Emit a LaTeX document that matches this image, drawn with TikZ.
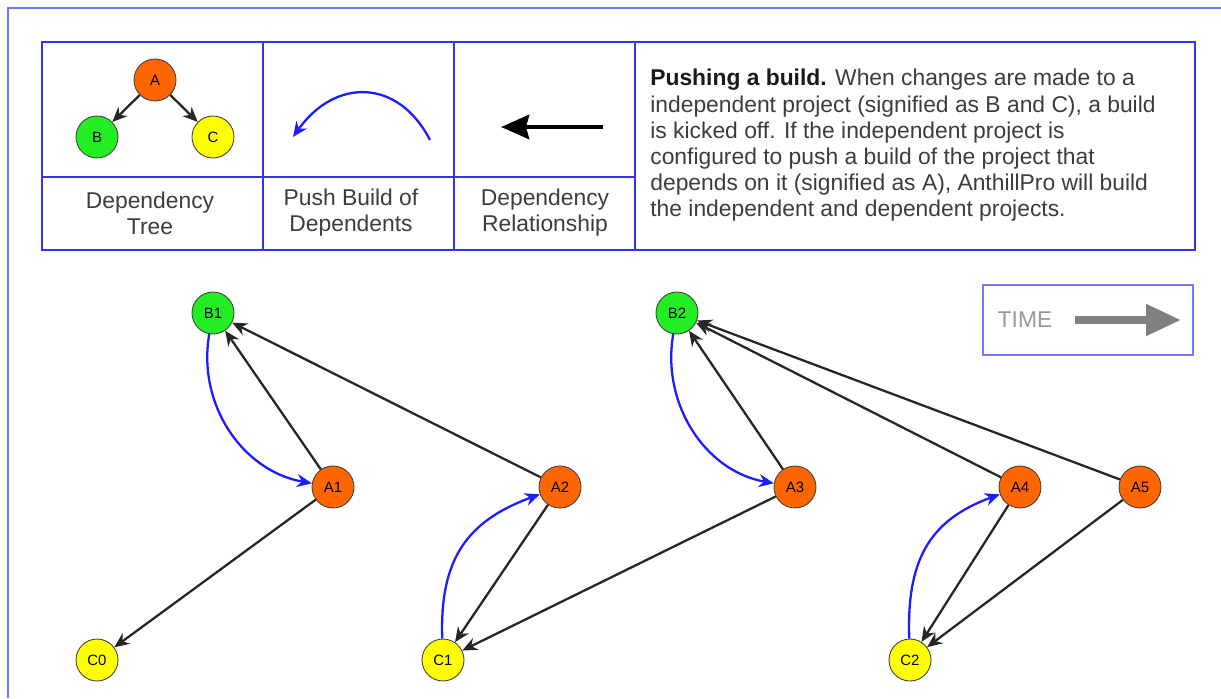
\documentclass[tikz,border=0pt]{standalone}
\usepackage{fontspec}
\setmainfont{Liberation Sans}
\usetikzlibrary{arrows.meta}

\definecolor{frameblue}{HTML}{7474FF}
\definecolor{gridblue}{HTML}{3434F2}
\definecolor{aorange}{HTML}{FF6600}
\definecolor{bgreen}{HTML}{22EE22}
\definecolor{cyellow}{HTML}{FFFF00}
\definecolor{pushblue}{HTML}{1C1CFF}
\definecolor{bodygray}{HTML}{3C3C3C}

\begin{document}
\begin{tikzpicture}[x=0.02cm,y=0.02cm,
    >={Stealth[length=3mm,width=2.6mm]},
    proj/.style={circle,draw=black!75,line width=0.5pt,minimum size=0.84cm,
      inner sep=0pt,font=\fontsize{8.5}{9}\selectfont},
    aproj/.style={proj,fill=aorange},
    bproj/.style={proj,fill=bgreen},
    cproj/.style={proj,fill=cyellow},
    dep/.style={draw=black!85,line width=1.3pt,->},
    push/.style={draw=pushblue,line width=1.3pt,->},
    grid/.style={draw=gridblue,line width=0.8pt},
    caption/.style={font=\fontsize{13}{14.9}\selectfont,text=bodygray,align=center}
  ]
  \useasboundingbox (0,0) rectangle (1221,698);

  % page frame, runs off to the right and bottom
  \draw[frameblue,line width=1.2pt] (8,0) -- (8,690) -- (1221,690);

  % legend table
  \draw[grid] (42,448) rectangle (1195,656);
  \draw[grid] (263,448) -- (263,656);
  \draw[grid] (454,448) -- (454,656);
  \draw[grid] (635,448) -- (635,656);
  \draw[grid] (42,521) -- (635,521);

  % small dependency tree
  \node[aproj] (ta) at (155,618) {A};
  \node[bproj] (tb) at (97,561) {B};
  \node[cproj] (tc) at (213,561) {C};
  \draw[dep] (ta) -- (tb);
  \draw[dep] (ta) -- (tc);

  % push build sample
  \coordinate (pbs) at (430,558);
  \coordinate (pbe) at (293,561);
  \draw[push] (pbs) .. controls (398,620) and (335,620) .. (pbe);

  % dependency relationship sample
  \coordinate (drs) at (603,571);
  \coordinate (dre) at (501,571);
  \draw[line width=2.8pt,-{Stealth[length=5.6mm,width=4.8mm,inset=0.6mm]}] (drs) -- (dre);

  \node[caption] (cap1) at (150,485) {Dependency\\Tree};
  \node[caption] (cap2) at (351,485) {Push Build of\\Dependents};
  \node[caption] (cap3) at (545,485) {Dependency\\Relationship};

  \node[anchor=north west,align=left,inner sep=0pt,text=bodygray,
    font=\fontsize{13}{14.9}\selectfont] (blurb) at (650,629)
    {\textcolor{black!90}{\textbf{Pushing a build.}} When changes are made to a\\
     independent project (signified as B and C), a build\\
     is kicked off. If the independent project is\\
     configured to push a build of the project that\\
     depends on it (signified as A), AnthillPro will build\\
     the independent and dependent projects.};

  % time legend
  \draw[frameblue,line width=1.2pt] (983,343) rectangle (1193,413);
  \node[font=\fontsize{13}{14.9}\selectfont,text=black!40] (time) at (1025,378) {TIME};
  \coordinate (ts) at (1075,378);
  \coordinate (te) at (1181,378);
  \draw[black!50,line width=4.5pt,-{Triangle[length=7mm,width=6mm]}] (ts) -- (te);

  % builds
  \node[bproj] (B1) at (213,385) {B1};
  \node[bproj] (B2) at (677,385) {B2};
  \node[aproj] (A1) at (333,211) {A1};
  \node[aproj] (A2) at (560,211) {A2};
  \node[aproj] (A3) at (795,211) {A3};
  \node[aproj] (A4) at (1020,211) {A4};
  \node[aproj] (A5) at (1140,211) {A5};
  \node[cproj] (C0) at (97,38) {C0};
  \node[cproj] (C1) at (443,38) {C1};
  \node[cproj] (C2) at (910,38) {C2};

  \draw[dep] (A1) -- (B1);
  \draw[dep] (A2) -- (B1);
  \draw[dep] (A1) -- (C0);
  \draw[dep] (A2) -- (C1);
  \draw[dep] (A3) -- (C1);
  \draw[dep] (A3) -- (B2);
  \draw[dep] (A4) -- (B2);
  \draw[dep] (A5) -- (B2);
  \draw[dep] (A4) -- (C2);
  \draw[dep] (A5) -- (C2);

  % pushed builds
  \draw[push] (B1) to[out=-100,in=170] (A1);
  \draw[push] (B2) to[out=-100,in=170] (A3);
  \draw[push] (C1) to[out=92,in=200,looseness=1.15] (A2);
  \draw[push] (C2) to[out=92,in=200,looseness=1.15] (A4);
\end{tikzpicture}
\end{document}
